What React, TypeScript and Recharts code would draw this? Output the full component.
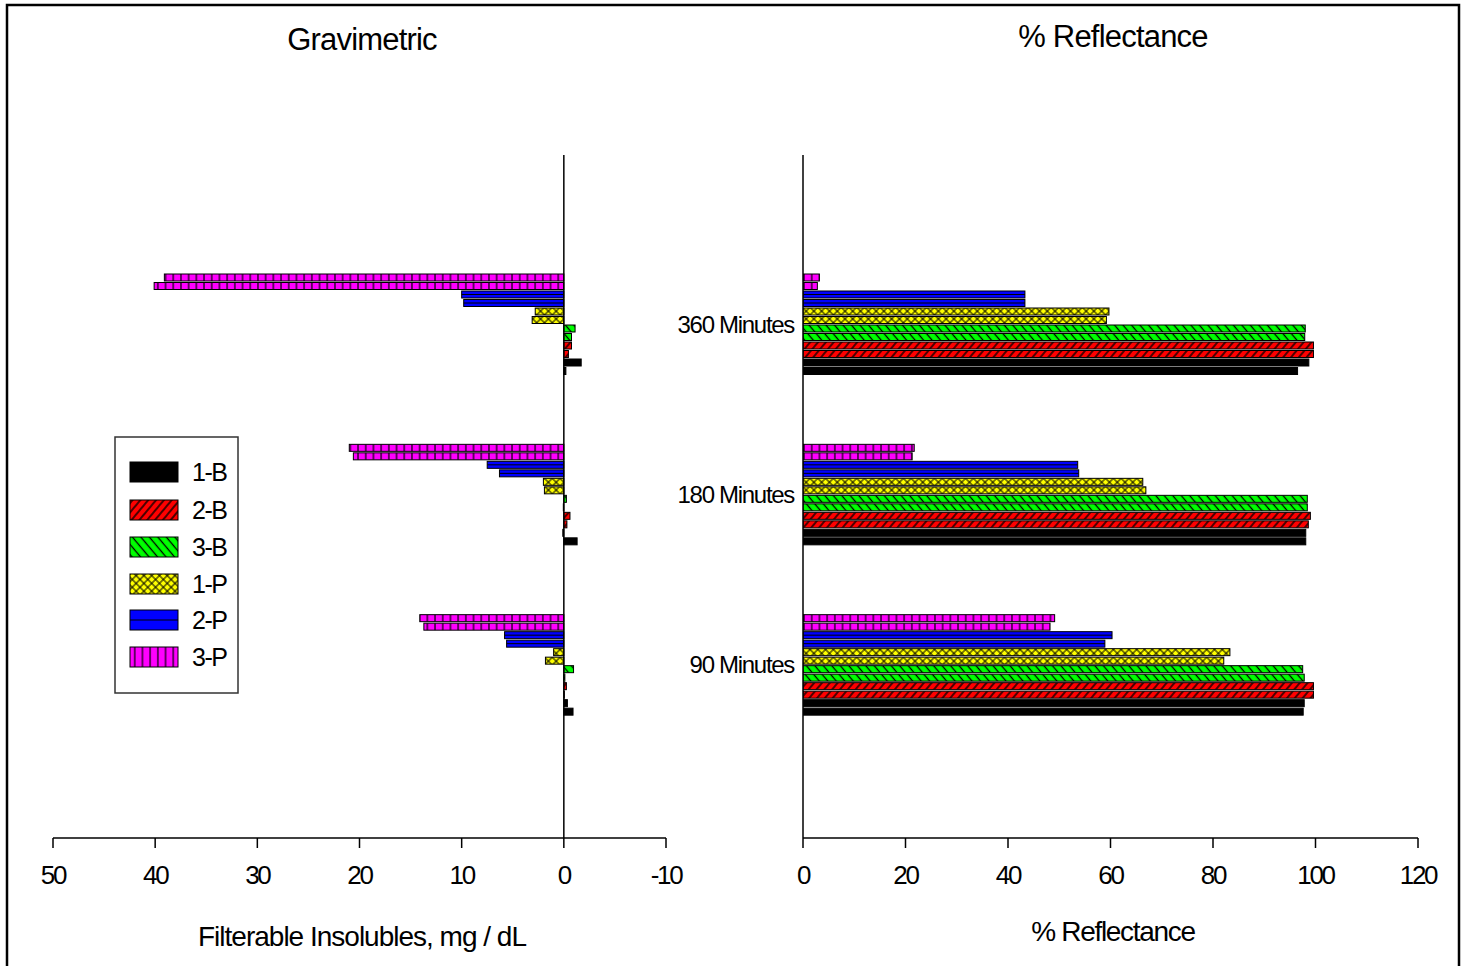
import React from "react";
import {
  BarChart,
  Bar,
  XAxis,
  YAxis,
  ReferenceLine,
} from "recharts";

// categories, top to bottom as drawn
const TIMES = ["360 Minutes", "180 Minutes", "90 Minutes"];
const SERIES = ["1-B", "2-B", "3-B", "1-P", "2-P", "3-P"];

// Gravimetric, mg/dL — each entry is [upper bar, lower bar] per time (360, 180, 90)
const GRAV_1B = [[-1.7, -0.2], [0.1, -1.3], [-0.35, -0.9]];
const GRAV_2B = [[-0.75, -0.45], [-0.6, -0.3], [-0.25, -0.05]];
const GRAV_3B = [[-1.1, -0.75], [-0.25, 0.05], [-0.95, -0.1]];
const GRAV_1P = [[2.8, 3.1], [2.0, 1.9], [1.0, 1.8]];
const GRAV_2P = [[10.0, 9.8], [7.5, 6.3], [5.8, 5.6]];
const GRAV_3P = [[39.1, 40.1], [21.0, 20.6], [14.1, 13.7]];

// % Reflectance — same layout
const REFL_1B = [[98.7, 96.5], [98.1, 98.1], [97.8, 97.6]];
const REFL_2B = [[99.6, 99.6], [99.0, 98.6], [99.6, 99.6]];
const REFL_3B = [[98.0, 97.9], [98.4, 98.4], [97.5, 97.8]];
const REFL_1P = [[59.7, 59.2], [66.3, 66.9], [83.3, 82.1]];
const REFL_2P = [[43.3, 43.3], [53.6, 53.8], [60.3, 58.9]];
const REFL_3P = [[3.2, 2.8], [21.7, 21.3], [49.1, 48.2]];

const GRAV_TICKS = [50, 40, 30, 20, 10, 0, -10];
const REFL_TICKS = [0, 20, 40, 60, 80, 100, 120];

const GRAV = { "1-B": GRAV_1B, "2-B": GRAV_2B, "3-B": GRAV_3B, "1-P": GRAV_1P, "2-P": GRAV_2P, "3-P": GRAV_3P };
const REFL = { "1-B": REFL_1B, "2-B": REFL_2B, "3-B": REFL_3B, "1-P": REFL_1P, "2-P": REFL_2P, "3-P": REFL_3P };

const COLORS = {
  "1-B": "#000000",
  "2-B": "#ff0000",
  "3-B": "#00ff00",
  "1-P": "#ffff00",
  "2-P": "#0000ff",
  "3-P": "#ff00ff",
};

const id = (p, s) => `${p}-${s.replace("-", "")}`;

function buildRows(src) {
  return TIMES.map((t, i) => {
    const row = { time: t };
    SERIES.forEach((s) => {
      row[`${s}_u`] = src[s][i][0];
      row[`${s}_l`] = src[s][i][1];
    });
    return row;
  });
}

const gravRows = buildRows(GRAV);
const reflRows = buildRows(REFL);

// bars listed top to bottom within a group
const BAR_KEYS = [...SERIES].reverse().flatMap((s) => [
  { s, key: `${s}_u` },
  { s, key: `${s}_l` },
]);

function Patterns({ p }) {
  return (
    <defs>
      <pattern id={id(p, "1-B")} width="4" height="4" patternUnits="userSpaceOnUse">
        <rect width="4" height="4" fill={COLORS["1-B"]} />
      </pattern>
      <pattern id={id(p, "2-B")} width="6" height="6" patternUnits="userSpaceOnUse" patternTransform="rotate(40)">
        <rect width="6" height="6" fill={COLORS["2-B"]} />
        <line x1="3" y1="0" x2="3" y2="6" stroke="#000" strokeWidth="1.4" />
      </pattern>
      <pattern id={id(p, "3-B")} width="6.5" height="6.5" patternUnits="userSpaceOnUse" patternTransform="rotate(-40)">
        <rect width="6.5" height="6.5" fill={COLORS["3-B"]} />
        <line x1="3.2" y1="0" x2="3.2" y2="6.5" stroke="#000" strokeWidth="1.3" />
      </pattern>
      <pattern id={id(p, "1-P")} width="5.5" height="5.5" patternUnits="userSpaceOnUse" patternTransform="rotate(45)">
        <rect width="5.5" height="5.5" fill={COLORS["1-P"]} />
        <line x1="2.75" y1="0" x2="2.75" y2="5.5" stroke="#000" strokeWidth="1" />
        <line x1="0" y1="2.75" x2="5.5" y2="2.75" stroke="#000" strokeWidth="1" />
      </pattern>
      <pattern id={id(p, "2-P")} width="4" height="4" patternUnits="userSpaceOnUse">
        <rect width="4" height="4" fill={COLORS["2-P"]} />
      </pattern>
      <pattern id={id(p, "3-P")} width="7.7" height="8" patternUnits="userSpaceOnUse">
        <rect width="7.7" height="8" fill={COLORS["3-P"]} />
        <line x1="3.85" y1="0" x2="3.85" y2="8" stroke="#000" strokeWidth="1.2" />
      </pattern>
    </defs>
  );
}

const makeShape = (p, s) => (props) => {
  let { x, y, width, height } = props;
  if (x == null || y == null || width == null || height == null) return null;
  if (width < 0) {
    x += width;
    width = -width;
  }
  if (height < 0) {
    y += height;
    height = -height;
  }
  return (
    <g>
      <rect x={x} y={y} width={width} height={height} fill={`url(#${id(p, s)})`} stroke="#000" strokeWidth={1} />
      {s === "2-P" && width > 2 && (
        <line x1={x} x2={x + width} y1={y + height / 2} y2={y + height / 2} stroke="#000" strokeWidth={1} />
      )}
    </g>
  );
};

const FONT = "'Liberation Sans', Arial, sans-serif";
const TICK_FONT = { fontSize: 26, fontFamily: FONT, fill: "#000", letterSpacing: -2.3 };
const CAT_FONT = { fontSize: 24, fontFamily: FONT, fill: "#000", letterSpacing: -1.3 };
const CAT_PAD = { top: 84, bottom: 88 };

function GravChart() {
  return (
    <BarChart
      width={700}
      height={966}
      data={gravRows}
      layout="vertical"
      margin={{ top: 155, right: 34, bottom: 68, left: 53 }}
      barSize={7}
      barGap={1.5}
    >
      <Patterns p="g" />
      <XAxis
        type="number"
        domain={[-10, 50]}
        ticks={GRAV_TICKS}
        reversed
        allowDataOverflow
        height={60}
        tickSize={10}
        tickMargin={18}
        axisLine={{ stroke: "#000", strokeWidth: 1.5 }}
        tickLine={{ stroke: "#000", strokeWidth: 1.5 }}
        tick={TICK_FONT}
      />
      <YAxis type="category" dataKey="time" hide padding={CAT_PAD} />
      <ReferenceLine x={0} stroke="#000" strokeWidth={1.5} />
      {BAR_KEYS.map(({ s, key }) => (
        <Bar key={key} dataKey={key} isAnimationActive={false} shape={makeShape("g", s)} />
      ))}
    </BarChart>
  );
}

function ReflChart() {
  return (
    <BarChart
      width={867}
      height={966}
      data={reflRows}
      layout="vertical"
      margin={{ top: 155, right: 49, bottom: 68, left: 0 }}
      barSize={7}
      barGap={1.5}
    >
      <Patterns p="r" />
      <XAxis
        type="number"
        domain={[0, 120]}
        ticks={REFL_TICKS}
        allowDataOverflow
        height={60}
        tickSize={10}
        tickMargin={18}
        axisLine={{ stroke: "#000", strokeWidth: 1.5 }}
        tickLine={{ stroke: "#000", strokeWidth: 1.5 }}
        tick={TICK_FONT}
      />
      <YAxis
        type="category"
        dataKey="time"
        width={203}
        padding={CAT_PAD}
        tickLine={false}
        tickSize={0}
        tickMargin={9}
        axisLine={{ stroke: "#000", strokeWidth: 1.5 }}
        tick={CAT_FONT}
      />
      {BAR_KEYS.map(({ s, key }) => (
        <Bar key={key} dataKey={key} isAnimationActive={false} shape={makeShape("r", s)} />
      ))}
    </BarChart>
  );
}

const LEGEND_ROWS = [472, 510, 547, 584, 620, 657];

function Overlay() {
  const title = { fontFamily: FONT, fill: "#000" };
  return (
    <svg width={1467} height={966} style={{ position: "absolute", left: 0, top: 0, pointerEvents: "none" }}>
      <Patterns p="l" />
      <rect x={7} y={5} width={1452} height={975} fill="none" stroke="#000" strokeWidth={2.5} />
      <text x={362} y={50} textAnchor="middle" fontSize={31} letterSpacing={-0.8} {...title}>Gravimetric</text>
      <text x={1113} y={47} textAnchor="middle" fontSize={31} letterSpacing={-0.8} {...title}>% Reflectance</text>
      <text x={362} y={946} textAnchor="middle" fontSize={28} letterSpacing={-1} {...title}>Filterable Insolubles, mg / dL</text>
      <text x={1113} y={941} textAnchor="middle" fontSize={28} letterSpacing={-1.3} {...title}>% Reflectance</text>
      <rect x={115} y={437} width={123} height={256} fill="#fff" stroke="#333" strokeWidth={1.5} />
      {SERIES.map((s, i) => (
        <g key={s}>
          <rect x={130} y={LEGEND_ROWS[i] - 10} width={48} height={20} fill={`url(#${id("l", s)})`} stroke="#000" strokeWidth={1} />
          {s === "2-P" && <line x1={130} x2={178} y1={LEGEND_ROWS[i]} y2={LEGEND_ROWS[i]} stroke="#000" strokeWidth={1.2} />}
          <text x={192} y={LEGEND_ROWS[i] + 9} fontSize={25} letterSpacing={-1.5} {...title}>{s}</text>
        </g>
      ))}
    </svg>
  );
}

export default function App() {
  return (
    <div style={{ position: "absolute", left: 0, top: 0, width: 1467, height: 966, background: "#fff", overflow: "hidden" }}>
      <div style={{ position: "absolute", left: 0, top: 0 }}>
        <GravChart />
      </div>
      <div style={{ position: "absolute", left: 600, top: 0 }}>
        <ReflChart />
      </div>
      <Overlay />
    </div>
  );
}
